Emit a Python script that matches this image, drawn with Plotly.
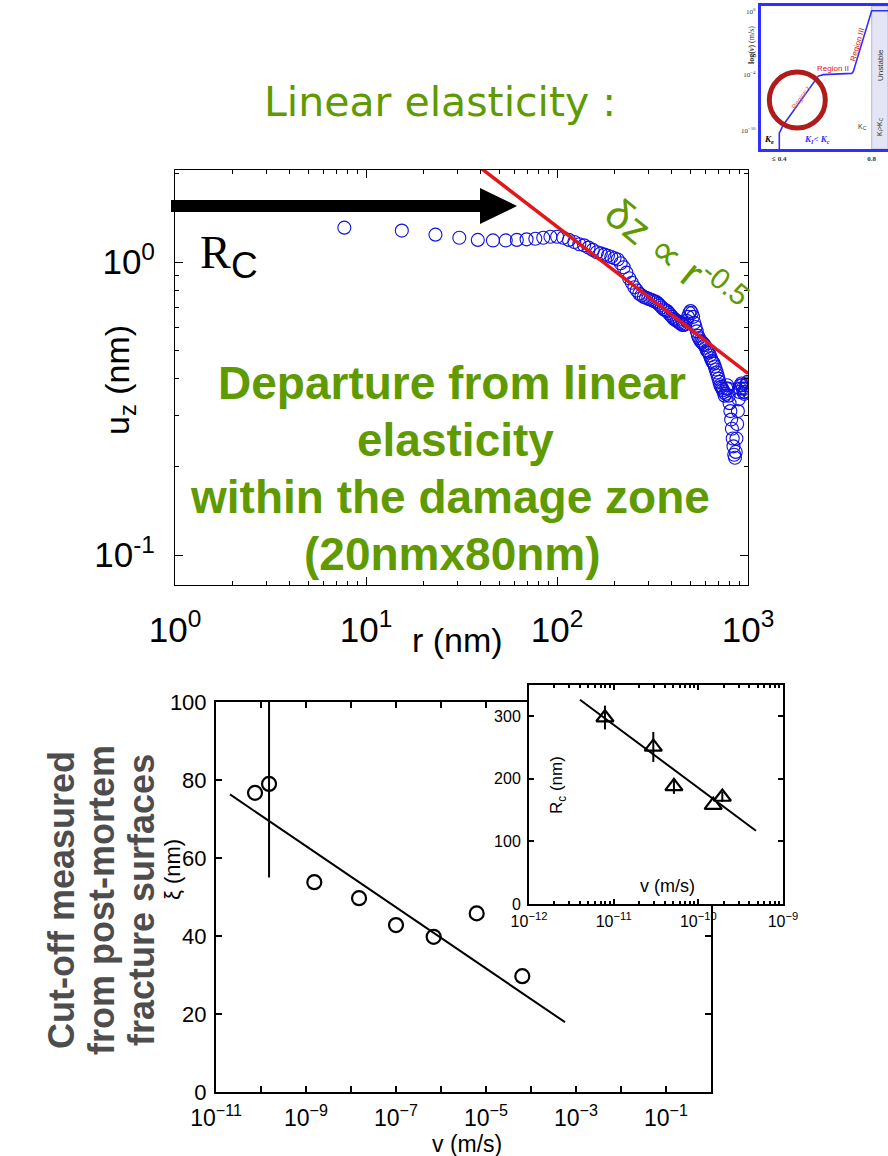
import plotly.graph_objects as go

W, H = 888, 1156
def px(x): return x / W
def py(y): return 1 - y / H

GREEN = "#5f9a00"
GRAY = "#4d4d4d"
SANS = "Liberation Sans, Arial, sans-serif"
WIDE = "DejaVu Sans, Verdana, sans-serif"
SERIF = "Liberation Serif, Times New Roman, serif"

# ---------------- top panel data: u_z(r) ----------------
r_nm = [7.7, 15.4, 23.1, 30.8, 38.5, 46.2, 53.9, 61.6, 69.3, 77.0,
        84.7, 92.4, 100.1, 107.8, 115.5, 123.2, 130.9, 138.6, 146.3, 154.0,
        161.7, 169.4, 177.1, 184.8, 192.5, 200.2, 207.9, 215.6, 223.3, 231.0,
        238.7, 246.4, 254.1, 261.8, 269.5, 277.2, 284.9, 292.6, 300.3, 308.0,
        315.7, 323.4, 331.1, 338.8, 346.5, 354.2, 361.9, 369.6, 377.3, 385.0,
        392.7, 400.4, 408.1, 415.8, 423.5, 431.2, 438.9, 446.6, 454.3, 462.0,
        469.7, 477.4, 485.1, 492.8, 500.5, 508.2, 515.9, 523.6, 531.3, 539.0,
        546.7, 554.4, 562.1, 569.8, 577.5, 585.2, 592.9, 600.6, 608.3, 616.0,
        623.7, 631.4, 639.1, 646.8, 654.5, 662.2, 669.9, 677.6, 685.3, 693.0,
        700.7, 708.4, 716.1, 723.8, 731.5, 739.2, 746.9, 754.6, 762.3, 770.0,
        777.7, 785.4, 793.1, 800.8, 808.5, 816.2, 823.9, 831.6, 839.3, 847.0,
        854.7, 862.4, 870.1, 877.8, 885.5, 893.2, 900.9, 908.6, 916.3, 924.0,
        931.7, 939.4, 947.1, 954.8, 962.5, 970.2, 977.9, 985.6, 993.3]
uz_nm = [1.31, 1.28, 1.24, 1.21, 1.19, 1.185, 1.185, 1.19, 1.195, 1.20,
         1.21, 1.22, 1.22, 1.21, 1.19, 1.17, 1.15, 1.14, 1.12, 1.10,
         1.08, 1.07, 1.06, 1.05, 1.04, 1.03, 1.02, 0.99, 0.96, 0.92,
         0.88, 0.85, 0.82, 0.80, 0.78, 0.77, 0.76, 0.755, 0.75, 0.745,
         0.74, 0.735, 0.73, 0.72, 0.71, 0.70, 0.69, 0.685, 0.68, 0.67,
         0.66, 0.65, 0.64, 0.635, 0.63, 0.625, 0.62, 0.615, 0.61, 0.61,
         0.615, 0.63, 0.65, 0.67, 0.68, 0.67, 0.65, 0.62, 0.60, 0.58,
         0.56, 0.55, 0.54, 0.535, 0.53, 0.525, 0.52, 0.51, 0.50, 0.495,
         0.49, 0.48, 0.47, 0.46, 0.455, 0.45, 0.44, 0.43, 0.42, 0.41,
         0.40, 0.39, 0.38, 0.375, 0.37, 0.365, 0.36, 0.35, 0.355, 0.37,
         0.38, 0.37, 0.35, 0.33, 0.31, 0.29, 0.27, 0.25, 0.235, 0.22,
         0.215, 0.225, 0.25, 0.28, 0.31, 0.34, 0.36, 0.37, 0.38, 0.385,
         0.38, 0.37, 0.36, 0.355, 0.36, 0.37, 0.38, 0.385, 0.39]
fit_r = [40, 1000]
fit_uz = [2.09, 0.417]

r_ticks = [1, 10, 100, 1000]
r_ticktext = ["10<sup>0</sup>", "10<sup>1</sup>", "10<sup>2</sup>", "10<sup>3</sup>"]
r_minor = [2, 3, 4, 5, 6, 7, 8, 9, 20, 30, 40, 50, 60, 70, 80, 90,
           200, 300, 400, 500, 600, 700, 800, 900]
uz_ticks = [0.1, 1]
uz_ticktext = ["10<sup>-1</sup>", "10<sup>0</sup>"]
uz_minor = [0.2, 0.3, 0.4, 0.5, 0.6, 0.7, 0.8, 0.9, 2]

# ---------------- bottom panel data: xi(v) ----------------
v_ms = [7.36e-11, 1.51e-10, 1.53e-9, 1.51e-8, 1.0e-7, 6.87e-7, 6.21e-6, 6.41e-5]
xi_nm = [76.7, 79.0, 53.8, 49.7, 42.8, 39.8, 45.8, 29.7]
xi_err = [0, 24, 0, 0, 0, 0, 0, 0]
fit_v = [2.05e-11, 5.70e-4]
fit_xi = [76.3, 17.9]

v_ticks = [1e-11, 1e-10, 1e-9, 1e-8, 1e-7, 1e-6, 1e-5, 1e-4, 1e-3, 1e-2, 1e-1, 1]
v_ticktext = ["10<sup>−11</sup>", "", "10<sup>−9</sup>", "", "10<sup>−7</sup>", "",
              "10<sup>−5</sup>", "", "10<sup>−3</sup>", "", "10<sup>−1</sup>", ""]
xi_ticks = [0, 20, 40, 60, 80, 100]

# ---------------- inset data: Rc(v) ----------------
vi_ms = [7.89e-12, 2.94e-11, 5.15e-11, 1.50e-10, 1.92e-10]
rc_nm = [298, 251, 188, 158, 171]
rc_err = [19, 24, 12, 0, 8]
fit_vi = [4.0e-12, 4.79e-10]
fit_rc = [326.5, 117]

vi_ticks = [1e-12, 1e-11, 1e-10, 1e-9]
vi_ticktext = ["10<sup>−12</sup>", "10<sup>−11</sup>", "10<sup>−10</sup>", "10<sup>−9</sup>"]
vi_minor = [2e-12, 3e-12, 4e-12, 5e-12, 6e-12, 7e-12, 8e-12, 9e-12,
            2e-11, 3e-11, 4e-11, 5e-11, 6e-11, 7e-11, 8e-11, 9e-11,
            2e-10, 3e-10, 4e-10, 5e-10, 6e-10, 7e-10, 8e-10, 9e-10]
rc_ticks = [0, 100, 200, 300]

# ---------------- thumbnail schematic (crack-velocity diagram) ----------------
k_curve = [0.4, 0.4, 0.4173, 0.5688, 0.5905, 0.7134, 0.7203, 0.8, 0.8706]
logv_curve = [0.0, 0.110, 0.168, 0.510, 0.520, 0.529, 0.541, 0.967, 0.967]
k_ticks = [0.4, 0.8]
k_ticktext = ["<b>≤ 0.4</b>", "<b>0.8</b>"]
lv_ticks = [0.126, 0.524, 0.96]
lv_ticktext = ["10<sup>−10</sup>", "10<sup>−4</sup>", "10<sup>0</sup>"]

fig = go.Figure()

# top panel
fig.add_trace(go.Scatter(x=r_nm, y=uz_nm, mode="markers", xaxis="x", yaxis="y",
                         marker=dict(symbol="circle-open", size=13, color="#1010e0",
                                     line=dict(width=1.1, color="#1010e0"))))
fig.add_trace(go.Scatter(x=fit_r, y=fit_uz, mode="lines", xaxis="x", yaxis="y",
                         line=dict(color="#e3161b", width=3.5)))

# bottom panel
fig.add_trace(go.Scatter(x=fit_v, y=fit_xi, mode="lines", xaxis="x2", yaxis="y2",
                         line=dict(color="black", width=2)))
fig.add_trace(go.Scatter(x=v_ms, y=xi_nm, mode="markers", xaxis="x2", yaxis="y2",
                         marker=dict(symbol="circle-open", size=14, color="black",
                                     line=dict(width=2.2, color="black")),
                         error_y=dict(type="data", array=xi_err, visible=True,
                                      width=0, thickness=2, color="black")))

# inset
fig.add_trace(go.Scatter(x=fit_vi, y=fit_rc, mode="lines", xaxis="x3", yaxis="y3",
                         line=dict(color="black", width=2)))
fig.add_trace(go.Scatter(x=vi_ms, y=rc_nm, mode="markers", xaxis="x3", yaxis="y3",
                         marker=dict(symbol="triangle-up-open", size=15, color="black",
                                     line=dict(width=2.2, color="black")),
                         error_y=dict(type="data", array=rc_err, visible=True,
                                      width=0, thickness=2, color="black")))

# thumbnail
fig.add_trace(go.Scatter(x=k_curve, y=logv_curve, mode="lines", xaxis="x4", yaxis="y4",
                         line=dict(color="#2f2fff", width=1.6)))

axis_common = dict(showgrid=False, zeroline=False, linecolor="black", tickcolor="black",
                   ticks="inside", mirror="ticks", showline=True, automargin=False)

fig.update_layout(
    width=W, height=H, margin=dict(l=0, r=0, t=0, b=0, autoexpand=False),
    paper_bgcolor="white", plot_bgcolor="white", showlegend=False,
    font=dict(family=SANS, color="black"),
    xaxis=dict(axis_common, type="log", range=[0, 3], domain=[px(175), px(748)], anchor="y",
               linewidth=1, ticklen=8, tickvals=r_ticks, ticktext=r_ticktext,
               tickfont=dict(size=35), ticklabelstandoff=14,
               minor=dict(ticks="inside", ticklen=4, tickcolor="black", tickvals=r_minor)),
    yaxis=dict(axis_common, type="log", range=[-1.102, 0.314], domain=[py(585), py(170)], anchor="x",
               linewidth=1, ticklen=8, tickvals=uz_ticks, ticktext=uz_ticktext,
               tickfont=dict(size=35), ticklabelstandoff=12,
               minor=dict(ticks="inside", ticklen=4, tickcolor="black", tickvals=uz_minor)),
    xaxis2=dict(axis_common, type="log", range=[-11, 0], domain=[px(216), px(711)], anchor="y2",
                linewidth=2, ticklen=6, tickwidth=1.5, tickvals=v_ticks, ticktext=v_ticktext,
                tickfont=dict(size=23), ticklabelstandoff=4),
    yaxis2=dict(axis_common, range=[0, 100], domain=[py(1092), py(702)], anchor="x2",
                linewidth=2, ticklen=6, tickwidth=1.5, tickvals=xi_ticks,
                tickfont=dict(size=22), ticklabelstandoff=3),
    xaxis3=dict(axis_common, type="log", range=[-12, -9], domain=[px(529), px(783)], anchor="y3",
                linewidth=2, ticklen=5, tickwidth=1.5, tickvals=vi_ticks, ticktext=vi_ticktext,
                tickfont=dict(size=16), ticklabelstandoff=2,
                minor=dict(ticks="inside", ticklen=3, tickcolor="black", tickvals=vi_minor)),
    yaxis3=dict(axis_common, range=[0, 350], domain=[py(904), py(685)], anchor="x3",
                linewidth=2, ticklen=5, tickwidth=1.5, tickvals=rc_ticks,
                tickfont=dict(size=16), ticklabelstandoff=3),
    xaxis4=dict(showgrid=False, zeroline=False, showline=True, mirror=True, linecolor="#2f2fff",
                linewidth=2.5, range=[0.3195, 0.8706], domain=[px(760.7), 1.0], anchor="y4",
                ticks="", tickvals=k_ticks, ticktext=k_ticktext, automargin=False,
                tickfont=dict(size=7, family=SERIF, color="#333333"), ticklabelstandoff=1),
    yaxis4=dict(showgrid=False, zeroline=False, showline=True, mirror=True, linecolor="#2f2fff",
                linewidth=2.5, range=[0, 1], domain=[py(149), py(6)], anchor="x4",
                ticks="", tickvals=lv_ticks, ticktext=lv_ticktext, automargin=False,
                tickfont=dict(size=7, family=SERIF, color="#333333"), ticklabelstandoff=1),
)

shapes = [
    # black arrow R_C
    dict(type="path", xref="paper", yref="paper", layer="above",
         path=(f"M{px(171)},{py(200)} L{px(480)},{py(200)} L{px(480)},{py(188)} "
               f"L{px(517)},{py(206)} L{px(480)},{py(224)} L{px(480)},{py(212)} "
               f"L{px(171)},{py(212)} Z"),
         fillcolor="black", line=dict(width=0)),
    # unstable region on thumbnail
    dict(type="rect", xref="x4", yref="y4 domain", x0=0.8, x1=0.8706, y0=0, y1=1,
         fillcolor="#e4e4f5", line=dict(color="#b8b8e0", width=1), layer="below"),
    # red circle on thumbnail
    dict(type="circle", xref="x4", yref="y4", xsizemode="pixel", ysizemode="pixel",
         xanchor=0.478, yanchor=0.343, x0=-28, x1=28, y0=-28, y1=28,
         line=dict(color="#b01c1c", width=5)),
]
fig.update_layout(shapes=shapes)

def ann(text, x, y, size, color="black", family=SANS, angle=0, **kw):
    return dict(text=text, x=px(x), y=py(y), xref="paper", yref="paper", showarrow=False,
                xanchor="center", yanchor="middle", textangle=angle,
                font=dict(size=size, color=color, family=family), **kw)

annotations = [
    ann("Linear elasticity :", 440, 102, 41, GREEN, WIDE),
    ann("R", 215, 252, 46, "black", SERIF),
    ann("C", 244, 265, 37, "black"),
    ann("δz ∝ r<sup>-0.5</sup>", 676, 256, 42, GREEN, angle=39),
    ann("<b>Departure from linear</b>", 452, 383, 46, GREEN),
    ann("<b>elasticity</b>", 455, 440, 46, GREEN),
    ann("<b>within the damage zone</b>", 450, 497, 46, GREEN),
    ann("<b>(20nmx80nm)</b>", 453, 554, 46, GREEN),
    ann("u<sub>z</sub> (nm)", 120, 380, 34, angle=-90),
    ann("r (nm)", 458, 640, 34),
    ann("ξ (nm)", 172, 870, 22, angle=-90),
    ann("v (m/s)", 467, 1144, 23),
    ann("R<sub>c</sub> (nm)", 558, 785, 17, angle=-90),
    ann("v (m/s)", 667, 886, 18),
    ann("<b>Cut-off measured</b>", 61, 900, 36, GRAY, angle=-90),
    ann("<b>from post-mortem</b>", 101, 900, 36, GRAY, angle=-90),
    ann("<b>fracture surfaces</b>", 141, 900, 36, GRAY, angle=-90),
    # thumbnail labels
    ann("<b>log(<i>v</i>)</b> (m/s)", 752, 45, 8, "#333333", SERIF, angle=-90),
    ann("Region I", 801, 98, 7, "#e06060", angle=-54),
    ann("Region II", 833, 69, 8, "#d42020"),
    ann("Region III", 858, 45, 8, "#d42020", angle=-74),
    ann("Unstable", 880, 65, 8, "#333333", angle=-90),
    ann("K<sub>I</sub>>K<sub>C</sub>", 880, 127, 7, "#333333", angle=-90),
    ann("<b><i>K<sub>e</sub></i></b>", 769, 140, 9, "black", SERIF),
    ann("<b><i>K<sub>I</sub>< K<sub>c</sub></i></b>", 817, 140, 9, "#2f2fff", SERIF),
    ann("K<sub>C</sub>", 862, 127, 7, "#333333"),
]
fig.update_layout(annotations=annotations)

fig.write_html("out.html")
